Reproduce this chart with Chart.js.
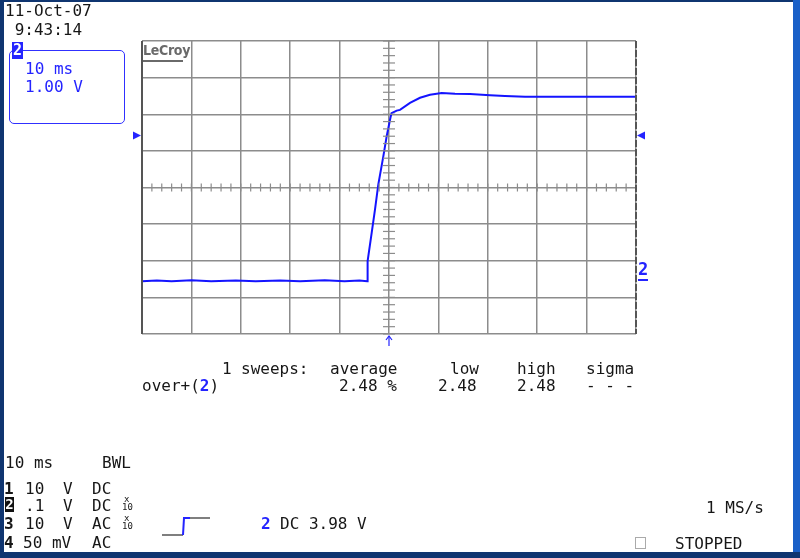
<!DOCTYPE html>
<html>
<head>
<meta charset="utf-8">
<script src="https://cdn.jsdelivr.net/npm/chart.js@4.4.1/dist/chart.umd.min.js"></script>
<style>
  html, body { margin: 0; padding: 0; }
  body { width: 800px; height: 558px; background: #0f3570; position: relative; overflow: hidden; }
  #rightStrip { position: absolute; left: 793px; top: 0; width: 7px; height: 552px; background: #1a60c8; }
  #paper { position: absolute; left: 4px; top: 2px; width: 789px; height: 550px; background: #fff; }
  #scope { position: absolute; left: 0; top: 0; }
  .t { position: absolute; font: 16px 'DejaVu Sans Mono', monospace; line-height: 16px; color: #161616; white-space: pre; }
  .blue { color: #2424ff; }
  .b { font-weight: bold; }
  .small { font-size: 9px; line-height: 9px; }
  #chBox { position: absolute; left: 9px; top: 50px; width: 114px; height: 72px; border: 1.5px solid #3030ff; border-radius: 5px; }
  #badge { position: absolute; left: 12px; top: 42px; width: 11px; height: 17px; background: #2424ff; color: #fff;
           font: bold 15px 'DejaVu Sans Mono', monospace; line-height: 17px; text-align: center; }
  #inv2 { position: absolute; left: 5px; top: 497px; width: 9px; height: 15px; background: #111; color: #fff;
          font: bold 14px 'DejaVu Sans Mono', monospace; line-height: 15px; text-align: center; }
  #lecroy { position: absolute; left: 143px; top: 42px; font: bold 14px 'DejaVu Sans Condensed', 'DejaVu Sans', sans-serif;
            letter-spacing: -0.3px; color: #6a6a6a; line-height: 17px; }
  #lecroyLine { position: absolute; left: 143px; top: 60px; width: 40px; height: 2px; background: #6a6a6a; }
  #gnd { position: absolute; left: 638px; top: 259px; font: bold 17px 'DejaVu Sans Mono', monospace; line-height: 20px;
         color: #2424ff; border-bottom: 2px solid #2424ff; }
  #stopBox { position: absolute; left: 635px; top: 537px; width: 9px; height: 10px; border: 1px solid #aaa; }
</style>
</head>
<body>
<div id="rightStrip"></div>
<div id="paper"></div>
<canvas id="scope" width="800" height="558"></canvas>

<div class="t" style="left:5px;top:3px">11-Oct-07</div>
<div class="t" style="left:5px;top:22px"> 9:43:14</div>
<div id="chBox"></div>
<div id="badge">2</div>
<div class="t blue" style="left:25px;top:61px">10 ms</div>
<div class="t blue" style="left:25px;top:79px">1.00 V</div>
<div id="lecroy">LeCroy</div>
<div id="lecroyLine"></div>
<div id="gnd">2</div>

<div class="t" style="left:222px;top:361px">1</div>
<div class="t" style="left:241px;top:361px">sweeps:</div>
<div class="t" style="left:330px;top:361px">average</div>
<div class="t" style="left:450px;top:361px">low</div>
<div class="t" style="left:517px;top:361px">high</div>
<div class="t" style="left:586px;top:361px">sigma</div>
<div class="t" style="left:142px;top:378px">over+(<span class="blue b">2</span>)</div>
<div class="t" style="left:339px;top:378px">2.48 %</div>
<div class="t" style="left:438px;top:378px">2.48</div>
<div class="t" style="left:517px;top:378px">2.48</div>
<div class="t" style="left:586px;top:378px">- - -</div>

<div class="t" style="left:5px;top:455px">10 ms</div>
<div class="t" style="left:102px;top:455px">BWL</div>
<div class="t b" style="left:4px;top:481px">1</div>
<div class="t" style="left:25px;top:481px">10</div>
<div class="t" style="left:63px;top:481px">V</div>
<div class="t" style="left:92px;top:481px">DC</div>
<div id="inv2">2</div>
<div class="t" style="left:25px;top:498px">.1</div>
<div class="t" style="left:63px;top:498px">V</div>
<div class="t" style="left:92px;top:498px">DC</div>
<div class="t small" style="left:124px;top:495px">x</div>
<div class="t small" style="left:122px;top:503px">10</div>
<div class="t b" style="left:4px;top:516px">3</div>
<div class="t" style="left:25px;top:516px">10</div>
<div class="t" style="left:63px;top:516px">V</div>
<div class="t" style="left:92px;top:516px">AC</div>
<div class="t small" style="left:124px;top:514px">x</div>
<div class="t small" style="left:122px;top:522px">10</div>
<div class="t b" style="left:4px;top:535px">4</div>
<div class="t" style="left:23px;top:535px">50 mV</div>
<div class="t" style="left:92px;top:535px">AC</div>
<div class="t blue b" style="left:261px;top:516px">2</div>
<div class="t" style="left:280px;top:516px">DC 3.98 V</div>
<div class="t" style="left:706px;top:500px">1 MS/s</div>
<div id="stopBox"></div>
<div class="t" style="left:675px;top:536px">STOPPED</div>

<script>
// trace: time in ms, channel 2 in volts
const timeMs = [-50, -47, -44, -40, -36, -31, -27, -22, -18, -13, -9, -6, -4.39,
                -4.33, -3.50, -2.83, -2.17, -1.15, -0.47, 0.30, 0.51, 1.56, 2.23, 4.25,
                6.28, 8.30, 10.67, 13.36, 16.40, 20.45, 23.48, 27.53, 50];
const volts = [0, 0.02, 0, 0.03, 0, 0.02, 0, 0.02, 0, 0.03, 0, 0.02, 0,
               0.55, 1.33, 1.96, 2.64, 3.41, 3.96, 4.47, 4.59, 4.66, 4.68, 4.87,
               5.01, 5.09, 5.14, 5.12, 5.11, 5.08, 5.06, 5.04, 5.04];

// screen divisions: 10 ms/div, 1 V/div, ground 2.56 div below centre
const xDivs = [-50, -40, -30, -20, -10, 0, 10, 20, 30, 40, 50];
const yDivs = [-1.44, -0.44, 0.56, 1.56, 2.56, 3.56, 4.56, 5.56, 6.56];
const triggerLevel = 3.98;
const triggerTime = 0;

const scopePlugin = {
    id: 'scope',
    afterDraw(chart) {
        const c = chart.ctx;
        const x = chart.scales.x, y = chart.scales.y;
        const a = chart.chartArea;
        const cx = x.getPixelForValue(0);
        const cy = y.getPixelForValue(yDivs[4]);
        c.save();
        c.strokeStyle = '#8c8c8c';
        c.lineWidth = 1.2;
        // minor ticks along the centre axes
        for (let t = xDivs[0]; t <= xDivs[xDivs.length - 1]; t += 2) {
            const px = x.getPixelForValue(t);
            c.beginPath(); c.moveTo(px, cy - 4); c.lineTo(px, cy + 4); c.stroke();
        }
        for (let v = yDivs[0]; v <= yDivs[yDivs.length - 1] + 0.01; v += 0.2) {
            const py = y.getPixelForValue(v);
            c.beginPath(); c.moveTo(cx - 6, py); c.lineTo(cx + 6, py); c.stroke();
        }
        // darker side borders
        c.strokeStyle = '#555';
        c.lineWidth = 2;
        c.beginPath(); c.moveTo(a.left, a.top); c.lineTo(a.left, a.bottom); c.stroke();
        c.setLineDash([7, 2]);
        c.beginPath(); c.moveTo(a.right, a.top); c.lineTo(a.right, a.bottom); c.stroke();
        c.setLineDash([]);
        // trigger level markers
        const ty = y.getPixelForValue(triggerLevel);
        c.fillStyle = '#2424ff';
        c.beginPath(); c.moveTo(a.left - 9, ty - 4); c.lineTo(a.left - 1, ty); c.lineTo(a.left - 9, ty + 4); c.fill();
        c.beginPath(); c.moveTo(a.right + 9, ty - 4); c.lineTo(a.right + 1, ty); c.lineTo(a.right + 9, ty + 4); c.fill();
        // trigger time arrow
        const tx = x.getPixelForValue(triggerTime);
        c.strokeStyle = '#2424ff';
        c.lineWidth = 1.2;
        c.beginPath(); c.moveTo(tx, a.bottom + 2); c.lineTo(tx, a.bottom + 12); c.stroke();
        c.beginPath(); c.moveTo(tx - 3, a.bottom + 6); c.lineTo(tx, a.bottom + 2); c.lineTo(tx + 3, a.bottom + 6); c.stroke();
        // trigger slope icon
        c.lineWidth = 1.5;
        c.strokeStyle = '#555';
        c.beginPath(); c.moveTo(162, 535); c.lineTo(183, 535); c.stroke();
        c.beginPath(); c.moveTo(189, 518); c.lineTo(210, 518); c.stroke();
        c.strokeStyle = '#2424ff';
        c.lineWidth = 2;
        c.beginPath(); c.moveTo(183, 535); c.lineTo(184, 518); c.lineTo(190, 518); c.stroke();
        c.restore();
    }
};

const grid = { color: '#8c8c8c', lineWidth: 1.5, drawTicks: false };

new Chart(document.getElementById('scope'), {
    type: 'line',
    data: {
        datasets: [{
            data: timeMs.map((t, i) => ({ x: t, y: volts[i] })),
            borderColor: '#1414ff',
            borderWidth: 2,
            pointRadius: 0,
            tension: 0
        }]
    },
    options: {
        responsive: false,
        animation: false,
        devicePixelRatio: 1,
        layout: { padding: { left: 142, right: 164, top: 41, bottom: 224 } },
        plugins: { legend: { display: false }, tooltip: { enabled: false } },
        scales: {
            x: {
                type: 'linear', min: xDivs[0], max: xDivs[xDivs.length - 1],
                afterBuildTicks: s => { s.ticks = xDivs.map(v => ({ value: v })); },
                ticks: { display: false },
                grid: grid,
                border: { display: false }
            },
            y: {
                min: yDivs[0], max: yDivs[yDivs.length - 1],
                afterBuildTicks: s => { s.ticks = yDivs.map(v => ({ value: v })); },
                ticks: { display: false },
                grid: grid,
                border: { display: false }
            }
        }
    },
    plugins: [scopePlugin]
});
</script>
</body>
</html>
